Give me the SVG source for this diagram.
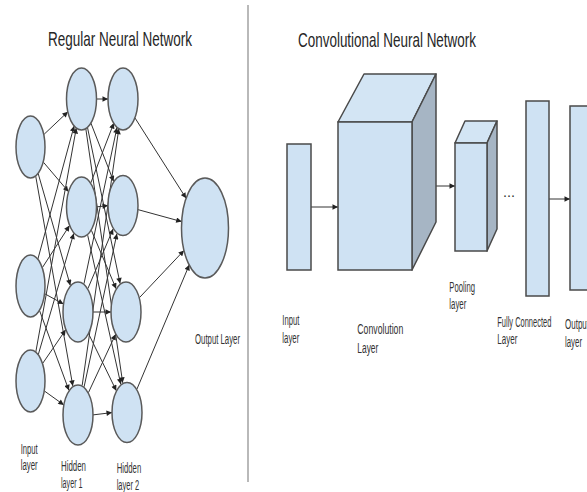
<svg xmlns="http://www.w3.org/2000/svg" width="587" height="492" viewBox="0 0 587 492">
<style>
.bg{fill:#ffffff}
.node{fill:#cfe2f3;stroke:#5a5a5a;stroke-width:1.5}
.side{fill:#a6b5c4;stroke:#4a4a4a;stroke-width:1.5;stroke-linejoin:round}
.top{fill:#d3e5f4;stroke:#4a4a4a;stroke-width:1.5;stroke-linejoin:round}
.box{fill:#cfe2f3;stroke:#4a4a4a;stroke-width:1.5}
.edge{stroke:#333333;stroke-width:1;fill:none;marker-end:url(#arr)}
.title{font-family:"Liberation Sans",Arial,sans-serif;font-size:21px;fill:#262626}
.lbl{font-family:"Liberation Sans",Arial,sans-serif;font-size:14px;fill:#333333}
</style>
<defs>
<marker id="arr" viewBox="0 0 10 10" refX="10" refY="5" markerWidth="6.5" markerHeight="5.5" markerUnits="userSpaceOnUse" orient="auto">
<path d="M0,0 L10,5 L0,10 z" fill="#222"/>
</marker>
</defs>
<rect class="bg" x="0" y="0" width="587" height="492"/>

<g id="divider"><line x1="248" y1="5" x2="248" y2="482" stroke="#8a8a8a" stroke-width="1.2"/></g>

<g id="titles">
<text class="title" x="48" y="46" textLength="144" lengthAdjust="spacingAndGlyphs">Regular Neural Network</text>
<text class="title" x="298" y="47" textLength="178" lengthAdjust="spacingAndGlyphs">Convolutional Neural Network</text>
</g>

<g id="connectors">
<line class="edge" x1="44.2" y1="134.2" x2="67.9" y2="111.8"/>
<line class="edge" x1="43.5" y1="162.3" x2="68.5" y2="191.7"/>
<line class="edge" x1="38.2" y1="173.6" x2="70.3" y2="285.4"/>
<line class="edge" x1="35.7" y1="176.1" x2="72.8" y2="385.9"/>
<line class="edge" x1="37.9" y1="259.0" x2="74.1" y2="126.0"/>
<line class="edge" x1="42.5" y1="267.4" x2="69.5" y2="225.6"/>
<line class="edge" x1="45.0" y1="293.9" x2="63.5" y2="304.1"/>
<line class="edge" x1="39.6" y1="310.7" x2="68.9" y2="390.3"/>
<line class="edge" x1="35.8" y1="352.0" x2="76.3" y2="128.0"/>
<line class="edge" x1="38.3" y1="354.5" x2="73.7" y2="233.5"/>
<line class="edge" x1="42.8" y1="363.2" x2="65.7" y2="329.8"/>
<line class="edge" x1="44.7" y1="391.2" x2="63.8" y2="404.9"/>

<line class="edge" x1="96.5" y1="99" x2="108" y2="99"/>
<line class="edge" x1="90.9" y1="123.1" x2="113.6" y2="181.4"/>
<line class="edge" x1="87.5" y1="127.5" x2="120.1" y2="283.5"/>
<line class="edge" x1="85.8" y1="128.7" x2="122.7" y2="382.8"/>
<line class="edge" x1="90.8" y1="182.9" x2="113.8" y2="123.1"/>
<line class="edge" x1="96.5" y1="206.9" x2="108" y2="205.6"/>
<line class="edge" x1="91.4" y1="230.3" x2="116.1" y2="288.7"/>
<line class="edge" x1="87.7" y1="235.2" x2="120.8" y2="384.3"/>
<line class="edge" x1="84.0" y1="283.6" x2="117.0" y2="127.4"/>
<line class="edge" x1="87.9" y1="288.6" x2="113.1" y2="228.9"/>
<line class="edge" x1="93" y1="312" x2="111" y2="312"/>
<line class="edge" x1="88.6" y1="333.8" x2="116.3" y2="390.7"/>
<line class="edge" x1="82.2" y1="385.3" x2="118.8" y2="128.7"/>
<line class="edge" x1="84.1" y1="386.8" x2="116.9" y2="233.8"/>
<line class="edge" x1="88.4" y1="392.7" x2="115.6" y2="334.3"/>
<line class="edge" x1="93" y1="414.9" x2="112" y2="412.6"/>

<line class="edge" x1="134.9" y1="117.8" x2="186.1" y2="198.3"/>
<line class="edge" x1="137.9" y1="209.6" x2="181.7" y2="221.6"/>
<line class="edge" x1="139.3" y1="297.8" x2="184.0" y2="250.4"/>
<line class="edge" x1="136.9" y1="389.2" x2="189.3" y2="264.8"/>

<line class="edge" x1="311" y1="207" x2="338" y2="207"/>
<line class="edge" x1="412" y1="186" x2="455" y2="186"/>
<line class="edge" x1="549" y1="199" x2="570" y2="199"/>
</g>

<g id="input-layer">
<ellipse class="node" cx="30.5" cy="147" rx="14.5" ry="31"/>
<ellipse class="node" cx="30.5" cy="286" rx="14.5" ry="31"/>
<ellipse class="node" cx="30.5" cy="381" rx="14.5" ry="31"/>
<text class="lbl" x="20.7" y="454" textLength="17" lengthAdjust="spacingAndGlyphs">Input</text>
<text class="lbl" x="20.7" y="470" textLength="17" lengthAdjust="spacingAndGlyphs">layer</text>
</g>

<g id="hidden-layer-1">
<ellipse class="node" cx="81.5" cy="99" rx="15" ry="31"/>
<ellipse class="node" cx="81.5" cy="207" rx="15" ry="30"/>
<ellipse class="node" cx="78" cy="312" rx="15" ry="30"/>
<ellipse class="node" cx="78" cy="415" rx="15" ry="30"/>
<text class="lbl" x="61" y="471" textLength="25" lengthAdjust="spacingAndGlyphs">Hidden</text>
<text class="lbl" x="61" y="488" textLength="21.5" lengthAdjust="spacingAndGlyphs">layer 1</text>
</g>

<g id="hidden-layer-2">
<ellipse class="node" cx="123" cy="99" rx="15" ry="31"/>
<ellipse class="node" cx="123" cy="205.5" rx="15" ry="30"/>
<ellipse class="node" cx="126" cy="312" rx="15" ry="30"/>
<ellipse class="node" cx="127" cy="412.5" rx="15" ry="30"/>
<text class="lbl" x="116.7" y="473" textLength="24.5" lengthAdjust="spacingAndGlyphs">Hidden</text>
<text class="lbl" x="116.7" y="490" textLength="22.5" lengthAdjust="spacingAndGlyphs">layer 2</text>
</g>

<g id="output-layer">
<ellipse class="node" cx="205" cy="228" rx="23.5" ry="50"/>
<text class="lbl" x="195" y="344" textLength="45" lengthAdjust="spacingAndGlyphs">Output Layer</text>
</g>

<g id="cnn-input">
<rect class="box" x="287" y="144" width="24" height="126"/>
<text class="lbl" x="282.3" y="325" textLength="17" lengthAdjust="spacingAndGlyphs">Input</text>
<text class="lbl" x="282.3" y="343" textLength="17" lengthAdjust="spacingAndGlyphs">layer</text>
</g>

<g id="cnn-convolution">
<polygon class="top" points="338,122 364,74 436,74 412,122"/>
<polygon class="side" points="412,122 436,74 436,222 412,270"/>
<rect class="box" x="338" y="122" width="74" height="148"/>
<text class="lbl" x="357.3" y="334" textLength="46" lengthAdjust="spacingAndGlyphs">Convolution</text>
<text class="lbl" x="357.3" y="353" textLength="21" lengthAdjust="spacingAndGlyphs">Layer</text>
</g>

<g id="cnn-pooling">
<polygon class="top" points="455,143 465,121 497,121 487,143"/>
<polygon class="side" points="487,143 497,121 497,229 487,251"/>
<rect class="box" x="455" y="143" width="32" height="108"/>
<text class="lbl" x="449.3" y="292" textLength="25.7" lengthAdjust="spacingAndGlyphs">Pooling</text>
<text class="lbl" x="449.3" y="309" textLength="17" lengthAdjust="spacingAndGlyphs">layer</text>
</g>

<g id="cnn-ellipsis">
<text class="lbl" x="503" y="197" textLength="12" lengthAdjust="spacingAndGlyphs">...</text>
</g>

<g id="cnn-fully-connected">
<rect class="box" x="526" y="101" width="23" height="195"/>
<text class="lbl" x="497.3" y="327" textLength="54" lengthAdjust="spacingAndGlyphs">Fully Connected</text>
<text class="lbl" x="497.3" y="344" textLength="20" lengthAdjust="spacingAndGlyphs">Layer</text>
</g>

<g id="cnn-output">
<rect class="box" x="570" y="106" width="30" height="184"/>
<text class="lbl" x="565" y="329" textLength="24" lengthAdjust="spacingAndGlyphs">Output</text>
<text class="lbl" x="565" y="347" textLength="17" lengthAdjust="spacingAndGlyphs">layer</text>
</g>
</svg>
